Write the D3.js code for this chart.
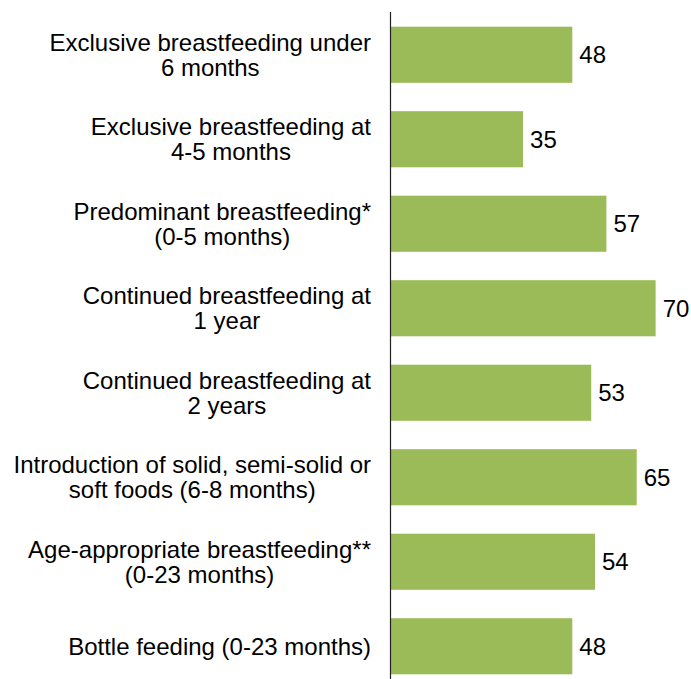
<!DOCTYPE html>
<html>
<head>
<meta charset="utf-8">
<script src="https://cdn.jsdelivr.net/npm/d3@7"></script>
<style>
  html, body { margin: 0; padding: 0; background: #fff; }
  svg { display: block; }
</style>
</head>
<body>
<svg id="chart" width="691" height="679"></svg>
<script>
const categories = [
  ["Exclusive breastfeeding under", "6 months"],
  ["Exclusive breastfeeding at", "4-5 months"],
  ["Predominant breastfeeding*", "(0-5 months)"],
  ["Continued breastfeeding at", "1 year"],
  ["Continued breastfeeding at", "2 years"],
  ["Introduction of solid, semi-solid or", "soft foods (6-8 months)"],
  ["Age-appropriate breastfeeding**", "(0-23 months)"],
  ["Bottle feeding (0-23 months)"]
];
const values = [48, 35, 57, 70, 53, 65, 54, 48];

const svg = d3.select("#chart");
const font = "'Liberation Sans', Arial, sans-serif";
const fontSize = 24;
const lineH = 25;

const x = d3.scaleLinear().domain([0, 80]).range([390.5, 390.5 + 303]);
const y = d3.scaleBand()
  .domain(d3.range(categories.length))
  .range([12.5, 688.5])
  .paddingInner(0.336)
  .paddingOuter(0.168);

// bars
svg.append("g").selectAll("rect")
  .data(values)
  .join("rect")
  .attr("x", x(0))
  .attr("y", (d, i) => y(i))
  .attr("width", d => x(d) - x(0))
  .attr("height", y.bandwidth())
  .attr("fill", "#9BBB59");

// value labels
svg.append("g").selectAll("text")
  .data(values)
  .join("text")
  .attr("x", d => x(d) + 7)
  .attr("y", (d, i) => y(i) + y.bandwidth() / 2)
  .attr("dy", "0.36em")
  .attr("font-family", font)
  .attr("font-size", fontSize)
  .attr("fill", "#000")
  .text(d => d);

// axis line
const axis = d3.axisLeft(y).tickSize(0).tickFormat(() => "");
const ax = svg.append("g").attr("transform", `translate(${x(0)},0)`).call(axis);
ax.select(".domain").attr("d", "M0,12V679").attr("stroke", "#222").attr("stroke-width", 1.2);

// category labels: block right-aligned, lines centered within block
const labelRight = 371;
const lg = svg.append("g");
categories.forEach((lines, i) => {
  const g = lg.append("g");
  const cy = y(i) + y.bandwidth() / 2;
  const texts = lines.map((t, k) => g.append("text")
    .attr("font-family", font)
    .attr("font-size", fontSize)
    .attr("fill", "#000")
    .attr("text-anchor", "middle")
    .attr("y", cy + (k - (lines.length - 1) / 2) * lineH)
    .attr("dy", "0.36em")
    .text(t));
  const w = d3.max(texts, t => t.node().getComputedTextLength());
  texts.forEach(t => t.attr("x", labelRight - w / 2));
});
</script>
</body>
</html>
